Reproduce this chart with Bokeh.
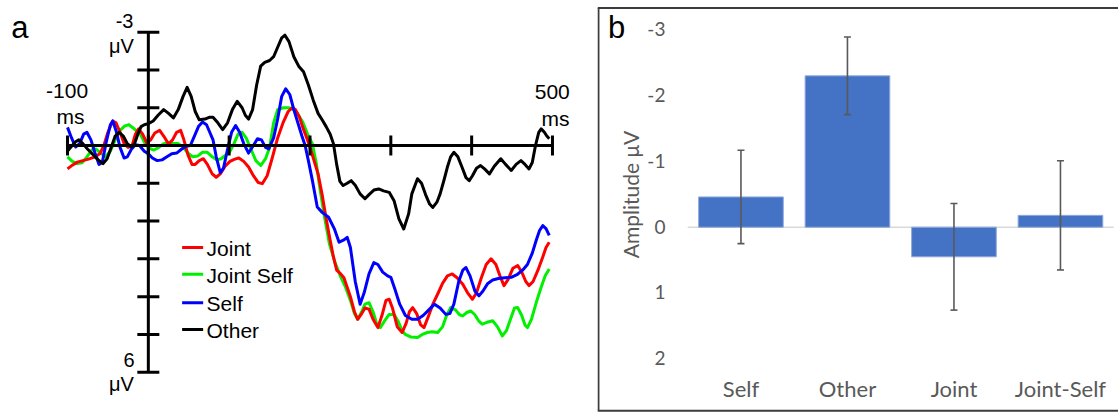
import math
from bokeh.plotting import figure
from bokeh.layouts import row
from bokeh.models import Range1d
from bokeh.core.properties import value
from bokeh.embed import file_html
from bokeh.resources import INLINE

# ---------------- Panel a data (ERP waveforms) ----------------
series_names = ["Joint", "Joint Self", "Self", "Other"]
series_colors = ["#ff0000", "#00f000", "#0000ff", "#000000"]
x_ticks = [-100, 0, 100, 200, 300, 400, 500]
y_ticks = [-3, -2, -1, 0, 1, 2, 3, 4, 5, 6]

joint = [(-100,0.62),(-94,0.52),(-88,0.44),(-81,0.4),(-74,0.36),(-66,0.3),(-60,0.22),(-55,0.0),(-50,-0.35),(-44,-0.65),
         (-40,-0.6),(-35,-0.35),(-30,-0.05),(-25,0.05),(-20,0.0),(-16,-0.3),(-12,-0.44),(-7,-0.3),(-2,-0.07),(3,-0.15),
         (8,-0.33),(14,-0.4),(19,-0.25),(25,-0.04),(30,-0.15),(35,-0.35),(40,-0.4),(44,-0.15),(49,0.25),(54,0.5),
         (58,0.5),(63,0.4),(68,0.35),(73,0.5),(79,0.75),(84,0.84),(89,0.75),(95,0.55),(101,0.42),(107,0.36),
         (112,0.33),(118,0.42),(124,0.57),(130,0.8),(136,0.98),(141,1.01),(147,0.8),(153,0.35),(160,-0.2),(167,-0.62),
         (173,-0.9),(178,-1.0),(182,-0.95),(187,-0.75),(191,-0.48),(196,-0.2),(200,0.04),(205,0.4),(210,0.75),(215,1.3),
         (219,1.81),(224,2.4),(229,2.95),(233,3.3),(238,3.4),(242,3.5),(246,3.75),(250,4.0),(255,4.4),(259,4.6),
         (264,4.45),(268,4.3),(273,4.33),(278,4.6),(284,4.82),(289,4.5),(294,4.1),(298,4.07),(302,4.3),(308,4.8),
         (314,4.95),(319,4.7),(323,4.4),(327,4.29),(332,4.45),(337,4.75),(341,4.82),(346,4.55),(352,4.2),(358,3.93),
         (364,3.65),(370,3.45),(376,3.4),(382,3.5),(389,3.67),(395,3.9),(401,4.07),(406,3.9),(412,3.5),(418,3.15),
         (424,3.0),(430,3.15),(435,3.45),(440,3.71),(445,3.55),(451,3.25),(457,3.18),(462,3.35),(467,3.6),(471,3.71),
         (476,3.6),(482,3.3),(488,2.95),(492,2.7),(496,2.56)]

joint_self = [(-100,0.3),(-94,0.42),(-88,0.48),(-82,0.46),(-76,0.3),(-70,0.12),(-65,0.09),(-59,0.2),(-53,0.3),(-47,0.15),
              (-41,-0.15),(-35,-0.4),(-29,-0.52),(-24,-0.55),(-18,-0.45),(-10,-0.3),(-4,-0.05),(2,0.08),(7,0.12),(13,0.05),
              (19,-0.05),(25,-0.08),(31,-0.05),(37,-0.05),(43,0.05),(49,0.2),(55,0.3),(61,0.28),(67,0.18),(73,0.18),
              (79,0.3),(85,0.38),(90,0.35),(96,0.25),(101,0.15),(106,-0.05),(111,-0.3),(116,-0.35),(121,-0.2),(127,0.1),
              (133,0.4),(139,0.53),(145,0.35),(150,0.05),(155,-0.6),(160,-0.95),(167,-1.0),(173,-1.0),(177,-0.98),(183,-0.9),
              (191,-0.62),(197,-0.3),(203,-0.04),(208,0.5),(212,1.1),(218,1.9),(224,2.6),(231,3.1),(238,3.48),(244,3.75),
              (250,4.1),(255,4.45),(259,4.6),(264,4.4),(268,4.2),(273,4.16),(278,4.4),(283,4.75),(287,4.82),(292,4.65),
              (298,4.47),(304,4.47),(309,4.65),(314,4.9),(318,5.0),(325,5.07),(333,5.08),(339,5.0),(345,4.95),(351,4.93),
              (358,4.95),(364,4.8),(369,4.5),(374,4.29),(380,4.35),(385,4.48),(389,4.51),(394,4.42),(399,4.38),(404,4.48),
              (409,4.65),(413,4.73),(419,4.68),(426,4.64),(432,4.8),(438,5.04),(443,4.9),(448,4.6),(453,4.3),(457,4.29),
              (462,4.5),(466,4.75),(469,4.82),(474,4.6),(480,4.15),(486,3.75),(491,3.45),(496,3.27)]

self_ = [(-100,-0.48),(-95,-0.2),(-90,0.04),(-85,-0.05),(-80,-0.3),(-76,-0.35),(-71,-0.15),(-66,0.2),(-61,0.5),(-57,0.45),
         (-52,-0.1),(-47,-0.55),(-44,-0.65),(-40,-0.4),(-35,0.05),(-30,0.33),(-26,0.3),(-21,0.1),(-16,-0.02),(-11,0.0),
         (-5,0.15),(0,0.22),(5,0.33),(11,0.4),(17,0.38),(23,0.3),(29,0.22),(35,0.2),(41,0.1),(47,0.02),
         (52,0.0),(57,-0.25),(62,-0.5),(67,-0.62),(72,-0.55),(76,-0.35),(80,-0.15),(84,0.3),(89,0.72),(93,0.6),
         (98,0.1),(103,-0.35),(108,-0.53),(113,-0.35),(118,-0.05),(124,0.2),(130,0.0),(135,-0.18),(140,-0.15),(145,0.05),
         (149,0.09),(155,-0.2),(160,-0.7),(165,-1.3),(170,-1.5),(175,-1.35),(180,-0.95),(185,-0.6),(190,-0.25),(194,0.0),
         (198,0.4),(203,0.93),(209,1.63),(215,1.77),(223,1.9),(230,2.2),(236,2.56),(242,2.5),(246,2.43),(250,2.7),
         (256,3.6),(262,4.2),(267,3.9),(273,3.4),(279,3.1),(284,3.15),(290,3.35),(296,3.45),(300,3.49),(305,3.8),
         (311,4.2),(318,4.5),(326,4.6),(333,4.6),(340,4.5),(347,4.35),(354,4.2),(361,4.3),(368,4.47),(373,4.45),
         (378,4.2),(384,3.6),(389,3.3),(393,3.23),(398,3.45),(404,3.85),(409,3.98),(414,3.85),(420,3.65),(426,3.56),
         (433,3.52),(441,3.5),(449,3.49),(456,3.42),(463,3.3),(469,3.15),(475,2.85),(480,2.5),(484,2.25),(488,2.12),
         (492,2.2),(496,2.38)]

other = [(-100,0.15),(-95,0.02),(-90,-0.1),(-86,-0.15),(-81,-0.05),(-75,0.1),(-68,0.25),(-62,0.38),(-56,0.48),(-51,0.35),
         (-46,0.05),(-41,-0.25),(-36,-0.35),(-31,-0.25),(-26,-0.05),(-21,0.04),(-17,-0.05),(-13,-0.3),(-9,-0.5),(-5,-0.55),
         (0,-0.58),(6,-0.65),(12,-0.8),(19,-0.95),(25,-0.85),(31,-0.73),(37,-0.95),(43,-1.3),(48,-1.54),(53,-1.3),
         (58,-0.9),(63,-0.68),(70,-0.7),(76,-0.75),(80,-0.75),(86,-0.6),(92,-0.42),(98,-0.6),(104,-0.95),(110,-1.17),
         (116,-1.0),(120,-0.8),(124,-0.7),(129,-0.95),(134,-1.6),(139,-2.1),(144,-2.2),(150,-2.25),(155,-2.35),(160,-2.6),
         (165,-2.85),(169,-2.92),(174,-2.75),(180,-2.35),(186,-2.1),(192,-1.95),(198,-1.6),(204,-1.2),(210,-0.85),(215,-0.68),
         (220,-0.5),(225,-0.3),(229,-0.05),(233,0.5),(237,0.95),(241,1.06),(246,1.0),(251,0.93),(256,1.05),(262,1.28),
         (268,1.41),(273,1.3),(279,1.18),(285,1.15),(291,1.2),(298,1.24),(304,1.46),(310,1.94),(316,2.21),(322,1.81),
         (326,1.28),(333,0.88),(338,1.0),(343,1.3),(348,1.55),(352,1.64),(357,1.5),(361,1.28),(366,0.9),(370,0.57),
         (374,0.3),(378,0.18),(383,0.3),(388,0.57),(393,0.85),(397,0.93),(401,0.8),(406,0.6),(411,0.53),(416,0.62),
         (422,0.75),(428,0.55),(436,0.35),(442,0.5),(449,0.66),(455,0.5),(461,0.4),(466,0.5),(471,0.62),(475,0.45),
         (479,0.0),(483,-0.35),(486,-0.44),(490,-0.35),(493,-0.25),(496,-0.18)]

series_data = [joint, joint_self, self_, other]

# ---------------- Panel b data (bar chart) ----------------
cats = ["Self", "Other", "Joint", "Joint-Self"]
amplitude = [-0.46, -2.30, 0.45, -0.18]
amp_err = [0.71, 0.59, 0.81, 0.83]
b_ticks = [-3, -2, -1, 0, 1, 2]

FONT_A = value("Liberation Sans")
FONT_B = value("Lato")

# ================= Panel a =================
pa = figure(width=597, height=412, x_range=Range1d(-182.9, 555.7), y_range=Range1d(7.067, -3.838),
            output_backend="svg", toolbar_location=None, min_border=0,
            x_axis_location=None, y_axis_location=None)
pa.outline_line_color = None
pa.grid.visible = False

# waveforms (drawn: green, red, blue, black)
for idx in [1, 0, 2, 3]:
    d = series_data[idx]
    pa.line([p[0] for p in d], [p[1] for p in d], line_color=series_colors[idx],
            line_width=3, line_join="round")

# axes drawn at x=0 / y=0
pa.segment(x0=[min(x_ticks), 0], y0=[0, min(y_ticks)], x1=[max(x_ticks), 0], y1=[0, max(y_ticks)],
           line_color="black", line_width=3)
pa.scatter(x=x_ticks, y=[0] * len(x_ticks), marker="dash", size=20, angle=math.pi / 2,
           line_color="black", line_width=3)
pa.scatter(x=[0] * len(y_ticks), y=y_ticks, marker="dash", size=22,
           line_color="black", line_width=3)

# axis texts (baselines corrected upward)
pa.text(x=[-29.4, -23.8], y=[-3.30, 5.68], text=[str(y_ticks[0]), str(y_ticks[-1])],
        text_font=FONT_A, text_font_size="20px", text_align="center", text_baseline="alphabetic")
pa.text(x=[-33.2, -33.2], y=[-2.63, 6.32], text=["μV", "μV"],
        text_font=FONT_A, text_font_size="20px", text_align="center", text_baseline="alphabetic")
pa.text(x=[-100.5, 499.7], y=[-1.45, -1.42], text=[str(x_ticks[0]), str(x_ticks[-1])],
        text_font=FONT_A, text_font_size="21px", text_align="center", text_baseline="alphabetic")
pa.text(x=[-96.3, 503.8], y=[-0.77, -0.72], text=["ms", "ms"],
        text_font=FONT_A, text_font_size="21px", text_align="center", text_baseline="alphabetic")
pa.text(x=[-169.6], y=[-3.12], text=["a"], text_font=FONT_A, text_font_size="31px",
        text_align="left", text_baseline="alphabetic")

# legend
leg_y = [2.70, 3.41, 4.16, 4.87]
pa.segment(x0=[41.8] * 4, y0=leg_y, x1=[67.8] * 4, y1=leg_y, line_color=series_colors, line_width=3)
pa.text(x=[72.0] * 4, y=[v + 0.02 for v in leg_y], text=series_names, text_font=FONT_A,
        text_font_size="21px", text_align="left", text_baseline="alphabetic")

# ================= Panel b =================
pb = figure(width=521, height=412, x_range=Range1d(-1.347, 3.545), y_range=Range1d(2.816, -3.445),
            output_backend="svg", toolbar_location=None, min_border=0,
            x_axis_location=None, y_axis_location=None)
pb.outline_line_color = None
pb.grid.visible = False

xi = list(range(len(cats)))
# frame border (top, bottom, left)
pb.segment(x0=[-1.347, -1.347, -1.338], y0=[-3.331, 2.789, -3.331],
           x1=[3.6, 3.6, -1.338], y1=[-3.331, 2.789, 2.789], line_color="#3c3c3c", line_width=2)
# zero line
pb.segment(x0=[-0.5], y0=[0], x1=[len(cats) - 0.5], y1=[0], line_color="#d9d9d9", line_width=1.5)
# bars
pb.vbar(x=xi, top=amplitude, bottom=0, width=0.795, fill_color="#4472c4", line_color="#8faadc", line_width=1)
# error bars
lo = [a - e for a, e in zip(amplitude, amp_err)]
hi = [a + e for a, e in zip(amplitude, amp_err)]
pb.segment(x0=xi, y0=lo, x1=xi, y1=hi, line_color="#595959", line_width=1.6)
pb.scatter(x=xi + xi, y=lo + hi, marker="dash", size=7, line_color="#595959", line_width=1.6)

# tick labels
pb.text(x=[-0.709] * len(b_ticks), y=[t - 0.01 for t in b_ticks], text=[str(t) for t in b_ticks],
        text_font=FONT_B, text_font_size="19px", text_color="#595959",
        text_align="right", text_baseline="alphabetic")
# category labels
pb.text(x=xi, y=[2.45] * len(cats), text=cats, text_font=FONT_B, text_font_size="22px",
        text_color="#595959", text_align="center", text_baseline="alphabetic")
# axis title
pb.text(x=[-1.037], y=[-0.497], text=["Amplitude μV"], angle=math.pi / 2, text_font=FONT_B,
        text_font_size="21px", text_color="#595959", text_align="center", text_baseline="middle")
# panel letter
pb.text(x=[-1.249], y=[-3.04], text=["b"], text_font=FONT_A, text_font_size="31px",
        text_align="left", text_baseline="alphabetic")

layout = row(pa, pb)
open("out.html", "w").write(file_html(layout, INLINE))
